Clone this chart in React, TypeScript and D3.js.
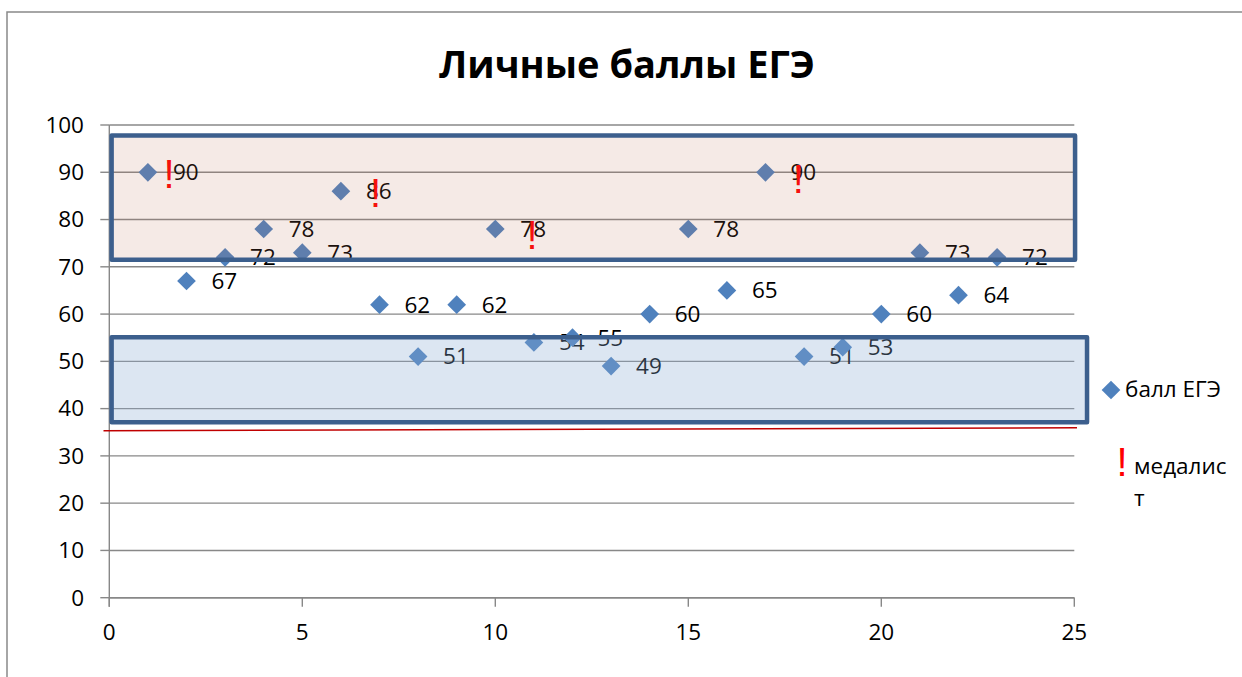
import React from 'react';
import * as d3 from 'd3';

// балл ЕГЭ, по номеру ученика
const students = [1, 2, 3, 4, 5, 6, 7, 8, 9, 10, 11, 12, 13, 14, 15, 16, 17, 18, 19, 20, 21, 22, 23];
const scores = [90, 67, 72, 78, 73, 86, 62, 51, 62, 78, 54, 55, 49, 60, 78, 65, 90, 51, 53, 60, 73, 64, 72];

// медалисты ("!" markers, sit a bit right of the point)
const medalX = [1.55, 6.9, 10.95, 17.85];
const medalY = [89.6, 85.6, 76.8, 88.6];

// threshold line (drawn by hand, slightly tilted)
const thresholdX = [-0.15, 25.07];
const thresholdY = [35.3, 35.95];

// highlighted bands [x0, x1, y0, y1]
const highBand = [0.06, 25.02, 71.5, 97.8];
const lowBand = [0.06, 25.33, 37.1, 55.1];

const xTicks = [0, 5, 10, 15, 20, 25];
const yTicks = [0, 10, 20, 30, 40, 50, 60, 70, 80, 90, 100];

const W = 1242;
const H = 677;
const FONT = '"Open Sans", "Noto Sans", sans-serif';

const App = () => {
  const x = d3.scaleLinear().domain([0, 25]).range([109.3, 1074.3]);
  const y = d3.scaleLinear().domain([0, 100]).range([597.7, 125]);

  const diamond = d3.symbol(d3.symbolSquare, 175)();
  const line = d3.line<number>().x((d) => x(d)).y((d, i) => y(thresholdY[i]));

  const band = (b: number[], fill: string, op: number) => (
    <rect
      x={x(b[0])}
      y={y(b[3])}
      width={x(b[1]) - x(b[0])}
      height={y(b[2]) - y(b[3])}
      fill={fill}
      fillOpacity={op}
      stroke="#3c5f8d"
      strokeWidth={4.5}
      strokeLinejoin="round"
    />
  );

  return (
    <div style={{ position: 'absolute', left: 0, top: 0 }}>
      <svg width={W} height={H} style={{ display: 'block', background: '#fff' }} fontFamily={FONT}>
        {/* chart border */}
        <rect x={7} y={12} width={W} height={H} fill="none" stroke="#898989" strokeWidth={1.5} />

        <text x={627} y={78} textAnchor="middle" fontSize={38} fontWeight="bold" fill="#000">
          Личные баллы ЕГЭ
        </text>

        {/* gridlines */}
        {yTicks.map((t) => (
          <line key={'g' + t} x1={x(0)} x2={x(25)} y1={y(t)} y2={y(t)} stroke="#888" strokeWidth={1.4} />
        ))}

        {/* axes */}
        <line x1={x(0)} x2={x(0)} y1={y(100)} y2={y(0) + 9} stroke="#888" strokeWidth={1.4} />
        <line x1={x(0)} x2={x(25)} y1={y(0)} y2={y(0)} stroke="#888" strokeWidth={1.4} />
        {yTicks.map((t) => (
          <g key={'y' + t}>
            <line x1={x(0) - 9} x2={x(0)} y1={y(t)} y2={y(t)} stroke="#888" strokeWidth={1.4} />
            <text x={84} y={y(t)} dy="0.35em" textAnchor="end" fontSize={22.5} fill="#000">
              {t}
            </text>
          </g>
        ))}
        {xTicks.map((t) => (
          <g key={'x' + t}>
            <line x1={x(t)} x2={x(t)} y1={y(0)} y2={y(0) + 9} stroke="#888" strokeWidth={1.4} />
            <text x={x(t)} y={632} dy="0.35em" textAnchor="middle" fontSize={22.5} fill="#000">
              {t}
            </text>
          </g>
        ))}

        {/* points + labels */}
        {students.map((s, i) => (
          <g key={'p' + s}>
            <path d={diamond} transform={`translate(${x(s)},${y(scores[i])}) rotate(45)`} fill="#4f81bd" />
            <text x={x(s) + 25} y={y(scores[i])} dy="0.35em" fontSize={22.5} fill="#000">
              {scores[i]}
            </text>
          </g>
        ))}

        {/* medalists */}
        {medalX.map((m, i) => (
          <text
            key={'m' + i}
            x={x(m)}
            y={y(medalY[i]) + 14}
            textAnchor="middle"
            fontSize={40}
            fontFamily='"Liberation Sans", Arial, sans-serif'
            fill="#ff0000"
          >
            !
          </text>
        ))}

        {/* overlay bands */}
        {band(highBand, '#bc7358', 0.15)}
        {band(lowBand, '#8aacd4', 0.3)}

        <path d={line(thresholdX) || ''} fill="none" stroke="#c00000" strokeWidth={1.5} />

        {/* legend */}
        <path d={diamond} transform="translate(1111,390) rotate(45)" fill="#4f81bd" />
        <text x={1125} y={389} dy="0.35em" fontSize={22.5} fill="#000">
          балл ЕГЭ
        </text>
        <text x={1122} y={476} textAnchor="middle" fontSize={40} fontFamily='"Liberation Sans", Arial, sans-serif' fill="#ff0000">
          !
        </text>
        <text x={1134} y={466} dy="0.35em" fontSize={22.5} fill="#000">
          медалис
        </text>
        <text x={1134} y={498} dy="0.35em" fontSize={22.5} fill="#000">
          т
        </text>
      </svg>
    </div>
  );
};

export default App;
